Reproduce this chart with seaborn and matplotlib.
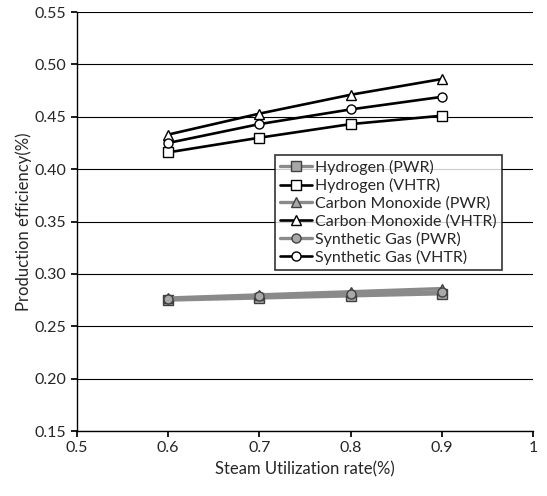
import matplotlib
matplotlib.use("Agg")
import matplotlib.pyplot as plt
import seaborn as sns
import pandas as pd

sns.set_theme(style="white")
plt.rcParams['font.family'] = ['Lato', 'DejaVu Sans']

steam_rate = [0.6, 0.7, 0.8, 0.9]
h2_pwr = [0.275, 0.277, 0.279, 0.281]
h2_vhtr = [0.416, 0.430, 0.443, 0.451]
co_pwr = [0.277, 0.280, 0.283, 0.286]
co_vhtr = [0.433, 0.453, 0.471, 0.486]
syn_pwr = [0.276, 0.279, 0.281, 0.283]
syn_vhtr = [0.425, 0.443, 0.457, 0.469]

labels = ["Hydrogen (PWR)", "Hydrogen (VHTR)", "Carbon Monoxide (PWR)",
          "Carbon Monoxide (VHTR)", "Synthetic Gas (PWR)", "Synthetic Gas (VHTR)"]
series = [h2_pwr, h2_vhtr, co_pwr, co_vhtr, syn_pwr, syn_vhtr]
markers = ["s", "s", "^", "^", "o", "o"]

fig = plt.figure(figsize=(5.47, 4.96), dpi=100)
ax = fig.add_axes([0.1408, 0.131, 0.8336, 0.8448])

for lab, vals, mk in zip(labels, series, markers):
    pwr = "PWR" in lab
    sns.lineplot(x=steam_rate, y=vals, ax=ax, label=lab, marker=mk,
                 color="#8a8a8a" if pwr else "black",
                 lw=2.4 if pwr else 1.9,
                 markersize=6.5, markerfacecolor="#a8a8a8" if pwr else "white",
                 markeredgecolor="black" if not pwr else "#404040",
                 markeredgewidth=1.0)

ax.set_xlim(0.5, 1.0)
ax.set_ylim(0.15, 0.55)
ax.set_xticks([0.5, 0.6, 0.7, 0.8, 0.9, 1.0])
ax.set_xticklabels(["0.5", "0.6", "0.7", "0.8", "0.9", "1"])
ax.set_yticks([0.15 + 0.05 * i for i in range(9)])
ax.set_yticklabels([f"{0.15 + 0.05 * i:.2f}" for i in range(9)])
ax.yaxis.grid(True, color="black", lw=0.8)
ax.xaxis.grid(False)
for s in ["top", "right"]:
    ax.spines[s].set_visible(False)
for s in ["left", "bottom"]:
    ax.spines[s].set_color("black")
    ax.spines[s].set_linewidth(1.0)
ax.tick_params(axis="both", direction="out", length=4, color="black",
               labelsize=11.5, bottom=True, left=True)
ax.set_xlabel("Steam Utilization rate(%)", fontsize=12)
ax.set_ylabel("Production efficiency(%)", fontsize=12, labelpad=2)

leg = ax.legend(loc="lower left", bbox_to_anchor=(0.435, 0.385), frameon=True,
                fancybox=False, edgecolor="black", fontsize=11.5,
                handlelength=2.0, handletextpad=0.2, borderpad=0.3,
                labelspacing=0.2, borderaxespad=0)
leg.get_frame().set_linewidth(1.2)

fig.savefig("out.png", dpi=100)
